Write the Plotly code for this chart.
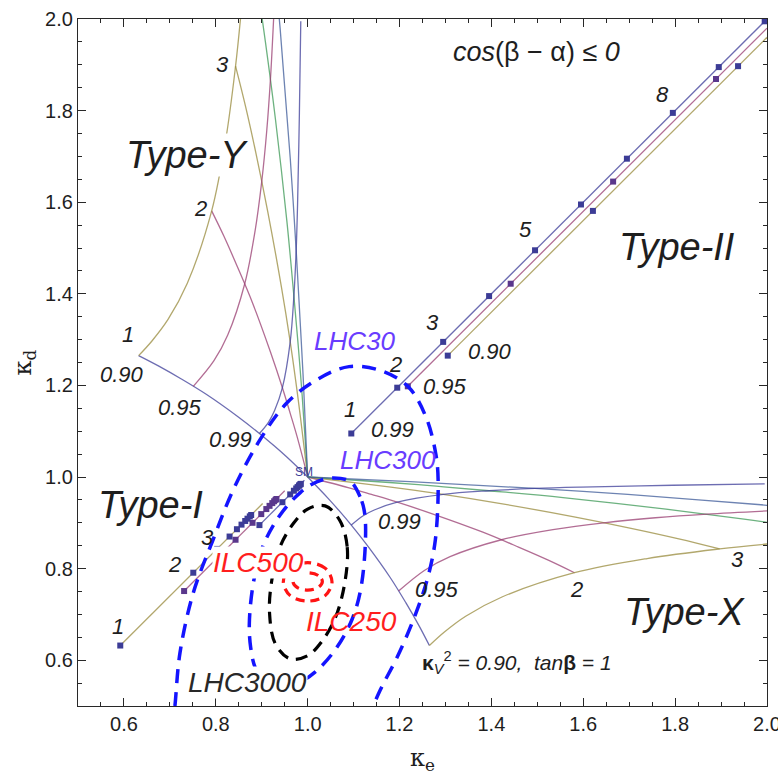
import plotly.graph_objects as go

# ---------------- data ----------------
# Mathematica default palette
C1 = "rgb(61,61,153)"    # slate
C2 = "rgb(153,61,113)"   # purple
C3 = "rgb(153,139,61)"   # khaki
C4 = "rgb(61,153,86)"    # green
C5 = "rgb(61,90,153)"    # blue

# Type-Y: curves of fixed tan(beta), kappa_V^2 running 0.90 -> 1 (Type-X is the mirror image)
tb1_ke = [0.632, 0.676, 0.725, 0.780, 0.849, 0.895, 0.927, 0.954, 1.0]
tb1_kd = [1.265, 1.242, 1.214, 1.180, 1.131, 1.095, 1.068, 1.044, 1.0]
tb2_ke = [0.791, 0.818, 0.847, 0.880, 0.919, 0.945, 0.962, 0.977, 1.0]
tb2_kd = [1.581, 1.525, 1.459, 1.380, 1.273, 1.195, 1.139, 1.088, 1.0]
tb3_ke = [0.843, 0.865, 0.888, 0.913, 0.943, 0.962, 0.974, 0.984, 1.0]
tb3_kd = [1.897, 1.808, 1.704, 1.580, 1.414, 1.295, 1.210, 1.133, 1.0]
tb4_ke = [0.888, 0.908, 0.930, 0.955, 0.970, 0.980, 0.988, 1.0]
tb4_kd = [2.090, 1.950, 1.780, 1.556, 1.395, 1.280, 1.178, 1.0]
tb5_ke = [0.930, 0.940, 0.950, 0.962, 0.975, 0.983, 0.990, 1.0]
tb5_kd = [2.093, 1.980, 1.851, 1.697, 1.495, 1.351, 1.223, 1.0]

# Type-Y: curves of fixed kappa_V^2, tan(beta) running from 1 upward
kv90_ke = [0.632, 0.661, 0.696, 0.738, 0.791, 0.822, 0.843, 0.854]
kv90_kd = [1.265, 1.297, 1.344, 1.423, 1.581, 1.739, 1.897, 2.003]
kv95_ke = [0.751, 0.796, 0.826, 0.863, 0.885, 0.900, 0.911, 0.919, 0.926]
kv95_kd = [1.198, 1.254, 1.310, 1.422, 1.534, 1.645, 1.757, 1.869, 2.003]
kv99_ke = [0.895, 0.915, 0.928, 0.945, 0.962, 0.970, 0.975, 0.978, 0.982, 0.985]
kv99_kd = [1.095, 1.120, 1.145, 1.195, 1.295, 1.395, 1.495, 1.595, 1.795, 1.995]

# Type-II: points at tan(beta) = 1, 2, 3, ...
t2_99_ke = [1.095, 1.195, 1.295, 1.395, 1.495, 1.595, 1.695, 1.795, 1.895, 1.995]
t2_99_kd = [1.095, 1.195, 1.295, 1.395, 1.495, 1.595, 1.695, 1.795, 1.895, 1.995]
t2_95_ke = [1.218, 1.442, 1.665, 1.889]
t2_95_kd = [1.198, 1.422, 1.645, 1.869]
t2_90_ke = [1.305, 1.621, 1.937]
t2_90_kd = [1.265, 1.581, 1.897]
t2_95_end = (2.0, 1.980)
t2_90_end = (2.0, 1.960)

# Type-I: points at tan(beta) = 1 ... 10
t1_99_ke = [0.895, 0.945, 0.962, 0.970, 0.975, 0.978, 0.981, 0.982, 0.984, 0.985]
t1_99_kd = [0.895, 0.945, 0.962, 0.970, 0.975, 0.978, 0.981, 0.982, 0.984, 0.985]
t1_95_ke = [0.731, 0.843, 0.880, 0.899, 0.910, 0.917, 0.923, 0.927, 0.930, 0.932]
t1_95_kd = [0.751, 0.863, 0.900, 0.919, 0.930, 0.937, 0.943, 0.947, 0.950, 0.952]
t1_90_ke = [0.592, 0.751, 0.803, 0.830, 0.846, 0.856, 0.864, 0.869, 0.874, 0.877]
t1_90_kd = [0.632, 0.791, 0.843, 0.870, 0.886, 0.896, 0.904, 0.909, 0.914, 0.917]
t1_99_end = (0.993, 0.993)
t1_95_end = (0.950, 0.970)
t1_90_end = (0.902, 0.942)

# precision contours
lhc30_ke = [0.705, 0.711, 0.722, 0.751, 0.794, 0.838, 0.896, 0.955, 1.021, 1.090, 1.160,
            1.219, 1.258, 1.279, 1.284, 1.278, 1.260, 1.230, 1.195, 1.158, 1.130]
lhc30_kd = [0.450, 0.500, 0.616, 0.747, 0.863, 0.972, 1.081, 1.162, 1.213, 1.241, 1.232,
            1.197, 1.130, 1.050, 0.994, 0.863, 0.775, 0.688, 0.607, 0.535, 0.470]
lhc300_ke = [1.125, 1.114, 1.093, 1.056, 1.021, 0.984, 0.940, 0.903, 0.882, 0.873, 0.876,
             0.886, 0.907, 0.944, 0.979, 1.016, 1.060, 1.097, 1.118, 1.125]
lhc300_kd = [0.913, 0.957, 0.990, 0.998, 0.990, 0.966, 0.917, 0.850, 0.770, 0.680, 0.627,
             0.583, 0.550, 0.542, 0.550, 0.574, 0.623, 0.690, 0.770, 0.913]
lhc3000_ke = [1.081, 1.086, 1.070, 1.038, 1.000, 0.970, 0.940, 0.922, 0.917, 0.930, 0.962,
              1.000, 1.030, 1.060, 1.081]
lhc3000_kd = [0.770, 0.848, 0.905, 0.937, 0.930, 0.900, 0.848, 0.775, 0.703, 0.635, 0.603,
              0.610, 0.640, 0.692, 0.770]
ilc500_ke = [1.053, 1.038, 1.000, 0.962, 0.947, 0.962, 1.000, 1.038, 1.053]
ilc500_kd = [0.771, 0.801, 0.813, 0.801, 0.771, 0.741, 0.729, 0.741, 0.771]
ilc250_ke = [1.032, 1.023, 1.000, 0.977, 0.968, 0.977, 1.000, 1.023, 1.032]
ilc250_kd = [0.772, 0.785, 0.791, 0.785, 0.772, 0.759, 0.753, 0.759, 0.772]

x_ticks = [0.6, 0.8, 1.0, 1.2, 1.4, 1.6, 1.8, 2.0]
y_ticks = [0.6, 0.8, 1.0, 1.2, 1.4, 1.6, 1.8, 2.0]

# ---------------- figure ----------------
fig = go.Figure()
LW = 1.3
OP = 0.75


def line(x, y, color, shape="linear", width=LW, opacity=OP, dash="solid"):
    fig.add_trace(go.Scatter(x=x, y=y, mode="lines", opacity=opacity,
                             line=dict(color=color, width=width, shape=shape, dash=dash),
                             hoverinfo="skip", showlegend=False))


# Type-Y and Type-X (mirror) fixed-tan(beta) curves
for ke, kd, col in [(tb1_ke, tb1_kd, C1), (tb2_ke, tb2_kd, C2), (tb3_ke, tb3_kd, C3),
                    (tb4_ke, tb4_kd, C4), (tb5_ke, tb5_kd, C5)]:
    line(ke, kd, col, "spline")
    line(kd, ke, col, "spline")

# fixed kappa_V^2 curves
for ke, kd, col in [(kv90_ke, kv90_kd, C3), (kv95_ke, kv95_kd, C2), (kv99_ke, kv99_kd, C1)]:
    line(ke, kd, col, "spline")
    line(kd, ke, col, "spline")

# Type-II lines
line(t2_99_ke + [2.0], t2_99_kd + [2.0], C1)
line(t2_95_ke + [t2_95_end[0]], t2_95_kd + [t2_95_end[1]], C2)
line(t2_90_ke + [t2_90_end[0]], t2_90_kd + [t2_90_end[1]], C3)
# Type-I lines
line(t1_99_ke + [t1_99_end[0]], t1_99_kd + [t1_99_end[1]], C1)
line(t1_95_ke + [t1_95_end[0]], t1_95_kd + [t1_95_end[1]], C2)
line(t1_90_ke + [t1_90_end[0]], t1_90_kd + [t1_90_end[1]], C3)

# dots
DOT1 = "rgb(60,60,150)"
DOT2 = "rgb(90,55,140)"
for ke, kd, col in [(t2_99_ke, t2_99_kd, DOT1), (t2_95_ke, t2_95_kd, DOT2),
                    (t2_90_ke, t2_90_kd, DOT1), (t1_99_ke, t1_99_kd, DOT1),
                    (t1_95_ke, t1_95_kd, DOT2), (t1_90_ke, t1_90_kd, DOT1)]:
    fig.add_trace(go.Scatter(x=ke, y=kd, mode="markers",
                             marker=dict(symbol="square", size=6, color=col, line=dict(width=0)),
                             hoverinfo="skip", showlegend=False))

# contours
BLUE = "rgb(20,20,255)"
RED = "rgb(255,20,20)"
line(lhc30_ke, lhc30_kd, BLUE, "spline", 3.5, 1.0, "14px,9px")
line(lhc300_ke, lhc300_kd, BLUE, "spline", 3.5, 1.0, "14px,9px")
line(lhc3000_ke, lhc3000_kd, "black", "spline", 3.2, 1.0, "12px,8px")
line(ilc500_ke, ilc500_kd, RED, "spline", 3.2, 1.0, "9px,6px")
line(ilc250_ke, ilc250_kd, RED, "spline", 3.2, 1.0, "9px,6px")

FONT = "Liberation Sans"
TXT = "rgb(30,30,30)"


def label(x, y, text, size=22, color=TXT, bg=None, family=FONT):
    fig.add_annotation(x=x, y=y, text=text, showarrow=False,
                       font=dict(family=family, size=size, color=color),
                       bgcolor=bg if bg else "rgba(0,0,0,0)", borderpad=0)


# region names
label(0.737, 1.704, "<i>Type-Y</i>", 38, bg="white")
label(1.805, 1.503, "<i>Type-II</i>", 38)
label(0.657, 0.939, "<i>Type-I</i>", 38)
label(1.820, 0.705, "<i>Type-X</i>", 38)

# tan(beta) labels
for x, y, t in [(0.609, 1.311, "1"), (0.766, 1.586, "2"), (0.814, 1.901, "3"),
                (1.093, 1.147, "1"), (1.191, 1.245, "2"), (1.271, 1.337, "3"),
                (1.474, 1.540, "5"), (1.772, 1.836, "8"),
                (0.587, 0.673, "1"), (0.711, 0.808, "2"), (0.783, 0.869, "3"),
                (1.585, 0.754, "2"), (1.936, 0.819, "3")]:
    label(x, y, "<i>%s</i>" % t, 22)

# kappa_V^2 labels
for x, y, t in [(0.596, 1.223, "0.90"), (0.722, 1.151, "0.95"), (0.831, 1.081, "0.99"),
                (1.398, 1.274, "0.90"), (1.300, 1.197, "0.95"), (1.184, 1.103, "0.99"),
                (1.200, 0.902, "0.99"), (1.282, 0.754, "0.95")]:
    label(x, y, "<i>%s</i>" % t, 22)

LHCC = "rgb(105,60,255)"
label(1.101, 1.296, "<i>LHC30</i>", 26, LHCC)
label(1.175, 1.038, "<i>LHC300</i>", 26, LHCC)
label(0.868, 0.552, "<i>LHC3000</i>", 28, "rgb(40,40,40)", bg="white")
label(0.892, 0.813, "<i>ILC500</i>", 28, "rgb(255,30,30)", bg="white")
label(1.095, 0.684, "<i>ILC250</i>", 28, "rgb(255,30,30)")
label(0.992, 1.012, "SM", 12, "rgb(60,60,150)")

label(1.498, 1.929, "<i>cos</i>(β − α) ≤ <i>0</i>", 27)
label(1.455, 0.594, "<b>κ</b><sub><i>V</i></sub><sup>2</sup><i> = 0.90,  tan</i><b>β</b><i> = 1</i>", 21)

axis_common = dict(showline=True, linecolor="rgb(40,40,40)", linewidth=1.3, mirror="ticks",
                   ticks="inside", ticklen=8, tickwidth=1.1, tickcolor="rgb(40,40,40)",
                   showgrid=False, zeroline=False, tickformat=".1f",
                   ticklabeloverflow="allow",
                   tickfont=dict(family=FONT, size=20, color=TXT),
                   minor=dict(dtick=0.05, ticks="inside", ticklen=4, tickwidth=1,
                              tickcolor="rgb(40,40,40)", showgrid=False))
fig.update_xaxes(range=[0.5, 2.0], tickvals=x_ticks, **axis_common,
                 title=dict(text="κ<sub>e</sub>", font=dict(family="DejaVu Serif", size=24, color=TXT),
                            standoff=20))
fig.update_yaxes(range=[0.5, 2.0], tickvals=y_ticks, **axis_common,
                 title=dict(text="κ<sub>d</sub>", font=dict(family="DejaVu Serif", size=24, color=TXT),
                            standoff=6))

fig.update_layout(width=778, height=775, margin=dict(l=78, r=11, t=19, b=69, autoexpand=False),
                  plot_bgcolor="white", paper_bgcolor="white", showlegend=False)

fig.write_html("out.html")
